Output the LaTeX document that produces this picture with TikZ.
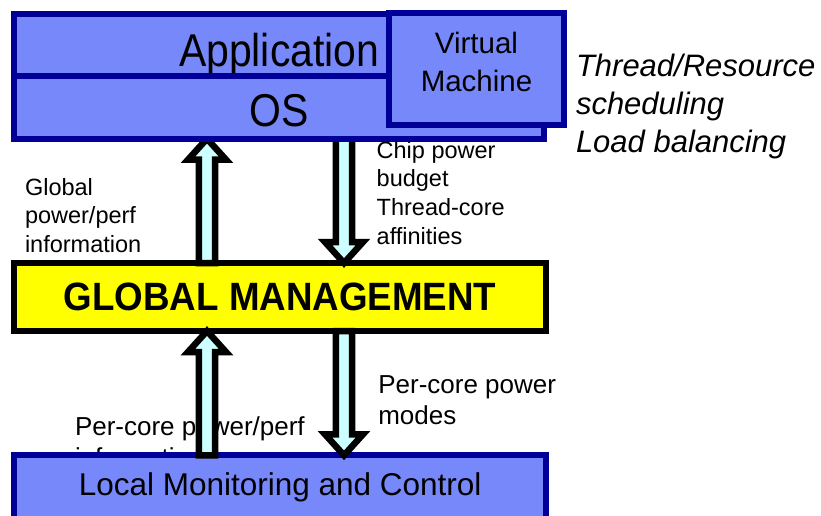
\documentclass[tikz,border=0pt]{standalone}
\usepackage{fontspec}
\setmainfont{Liberation Sans}
\usepackage{graphicx}
\usetikzlibrary{calc}

\definecolor{boxblue}{RGB}{119,136,250}
\definecolor{boxedge}{RGB}{0,0,153}
\definecolor{arrowfill}{RGB}{204,255,255}
\definecolor{mgmtyellow}{RGB}{255,255,0}

\pgfdeclarelayer{front}
\pgfsetlayers{main,front}

\newcommand\fsz[2]{\fontsize{#1}{#2}\selectfont}

\tikzset{
  layerbox/.style={draw=boxedge, fill=boxblue, line width=6pt, inner sep=0pt,
    outer sep=0pt, line join=miter},
  mgmtbox/.style={draw=black, fill=mgmtyellow, line width=6pt, inner sep=0pt,
    outer sep=0pt, line join=miter},
  % multi-line notes are placed by the baseline of their last line
  note/.style={inner sep=0pt, outer sep=0pt, align=left, anchor=base west},
  smallnote/.style={note, font=\fsz{23.5}{28.6}},
  midnote/.style={note, font=\fsz{26}{31.6}},
  % hollow block arrow: shaft half width 8.2, head half width 19, head length 21
  blockarrow/.style={draw=black, fill=arrowfill, line width=6.5pt, line join=miter,
    to path={let \p1=(\tikztostart), \p2=(\tikztotarget),
      \n1={sign(\y2-\y1)} in
      (\x1-8.2pt,\y1) -- (\x1-8.2pt,{\y2-(\n1)*21pt}) -- (\x1-19pt,{\y2-(\n1)*21pt})
      -- (\x2,\y2) -- (\x1+19pt,{\y2-(\n1)*21pt}) -- (\x1+8.2pt,{\y2-(\n1)*21pt})
      -- (\x1+8.2pt,\y1) -- cycle}},
}

\begin{document}
\begin{tikzpicture}[x=1pt, y=-1pt]
\useasboundingbox (0,0) rectangle (821,515);

% software stack on top
\begin{pgfonlayer}{front}
  \node[layerbox, minimum width=529.7pt, minimum height=61.2pt,
        text height=43pt, text depth=0pt, font=\fsz{46}{55}]
        (app) at (279.15,44.9) {\scalebox{0.89}[1]{Application}};
  \node[layerbox, minimum width=529.7pt, minimum height=63.2pt,
        text height=37.8pt, text depth=0pt, font=\fsz{46}{55}]
        (os) at (279.15,107.1) {\scalebox{0.89}[1]{OS}};
  \node[layerbox, minimum width=175pt, minimum height=112pt] (vm) at (476.5,69) {};
  \node[inner sep=0pt, align=center, anchor=base, font=\fsz{29.5}{38.4}]
        (vmtext) at (476.5,91.7) {Virtual\\Machine};
\end{pgfonlayer}

% side notes
\node[note, font=\fsz{31}{38}\itshape] (sched) at (576,152)
  {Thread/Resource\\scheduling\\Load balancing};
\node[smallnote] (gpinfo) at (25,252.2) {Global\\power/perf\\information};
\node[smallnote] (budget) at (376.7,244.1) {Chip power\\budget\\Thread-core\\affinities};
\node[midnote] (modes) at (378.3,424.9) {Per-core power\\modes};
\node[midnote] (coreinfo) at (75,466.6) {Per-core power/perf\\information};

% management and local control layers
\node[mgmtbox, minimum width=531.7pt, minimum height=68pt,
      text height=26pt, text depth=0pt, font=\fsz{39.5}{48}\bfseries]
      (gm) at (280.15,297) {\scalebox{0.93}[1]{GLOBAL MANAGEMENT}};
\node[layerbox, minimum width=531.7pt, minimum height=80.4pt,
      text height=0pt, text depth=0pt, font=\fsz{31.5}{38}]
      (local) at (280.15,495.5) {Local Monitoring and Control};

% information flow
\coordinate (ux) at (207,0);
\coordinate (dx) at (344,0);
\draw[blockarrow] (gm.north -| ux) to (os.south -| ux);
\draw[blockarrow] (os.south -| dx) to (gm.north -| dx);
\draw[blockarrow] (local.north -| ux) to (gm.south -| ux);
\draw[blockarrow] (gm.south -| dx) to (local.north -| dx);
\end{tikzpicture}
\end{document}
